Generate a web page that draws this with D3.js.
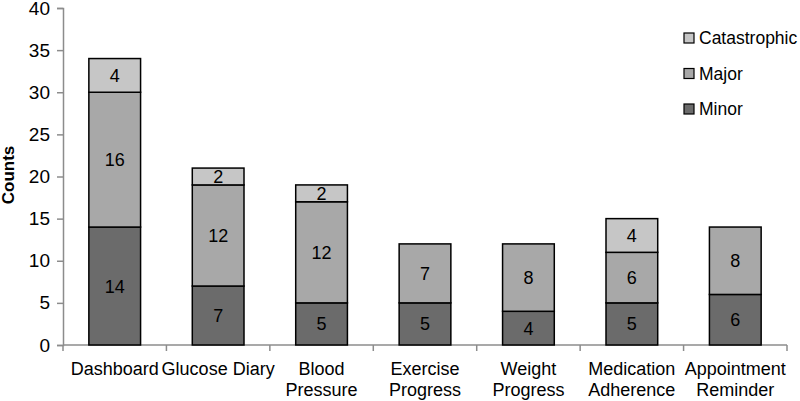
<!DOCTYPE html>
<html>
<head>
<meta charset="utf-8">
<script src="https://cdn.jsdelivr.net/npm/d3@7"></script>
<style>
  body { margin: 0; background: #fff; }
  svg text { font-family: "Liberation Sans", Arial, sans-serif; fill: #000; }
</style>
</head>
<body>
<svg id="chart" width="800" height="401"></svg>
<script>
// chart data
const categories = ['Dashboard', 'Glucose Diary', 'Blood Pressure', 'Exercise Progress',
                    'Weight Progress', 'Medication Adherence', 'Appointment Reminder'];
// label lines under each bar
const categoryLines = [['Dashboard'], ['Glucose Diary'], ['Blood', 'Pressure'], ['Exercise', 'Progress'],
                       ['Weight', 'Progress'], ['Medication', 'Adherence'], ['Appointment', 'Reminder']];
const seriesNames = ['Minor', 'Major', 'Catastrophic'];
const minor = [14, 7, 5, 5, 4, 5, 6];
const major = [16, 12, 12, 7, 8, 6, 8];
const catastrophic = [4, 2, 2, 0, 0, 4, 0];
const yTicks = [0, 5, 10, 15, 20, 25, 30, 35, 40];

const colors = { Minor: '#6b6b6b', Major: '#a8a8a8', Catastrophic: '#c6c6c6' };

const svg = d3.select('#chart');
const plotLeft = 63, plotRight = 787, plotTop = 8, plotBottom = 345;

const rows = categories.map((c, i) => ({ cat: c, Minor: minor[i], Major: major[i], Catastrophic: catastrophic[i] }));
const stacked = d3.stack().keys(seriesNames)(rows);

const x = d3.scaleBand().domain(categories).range([plotLeft, plotRight]).paddingInner(0.5).paddingOuter(0.25);
const y = d3.scaleLinear().domain([0, 40]).range([plotBottom, plotTop]);

// y axis
const yAxis = svg.append('g')
  .attr('transform', 'translate(' + plotLeft + ',0)')
  .call(d3.axisLeft(y).tickValues(yTicks).tickSize(6).tickPadding(7));
yAxis.select('.domain').attr('stroke', '#8c8c8c').attr('stroke-width', 1.5);
yAxis.selectAll('.tick line').attr('stroke', '#8c8c8c').attr('stroke-width', 1.5);
yAxis.selectAll('.tick text').style('font-size', '19px');

// x axis, ticks at category boundaries
const step = x.step();
const bounds = d3.range(categories.length + 1).map(i => plotLeft + i * step);
svg.append('line')
  .attr('x1', plotLeft).attr('x2', plotRight)
  .attr('y1', plotBottom).attr('y2', plotBottom)
  .attr('stroke', '#8c8c8c').attr('stroke-width', 1.5);
svg.selectAll('.xtick').data(bounds).enter().append('line')
  .attr('x1', d => d).attr('x2', d => d)
  .attr('y1', plotBottom).attr('y2', plotBottom + 6)
  .attr('stroke', '#8c8c8c').attr('stroke-width', 1.5);

// bars
const layers = svg.selectAll('.layer').data(stacked).enter().append('g')
  .attr('fill', d => colors[d.key]);
layers.selectAll('rect').data(d => d.filter(s => s[1] - s[0] > 0)).enter().append('rect')
  .attr('x', d => x(d.data.cat))
  .attr('width', x.bandwidth())
  .attr('y', d => y(d[1]))
  .attr('height', d => y(d[0]) - y(d[1]))
  .attr('stroke', '#000')
  .attr('stroke-width', 1.5);

// value labels
layers.selectAll('text').data(d => d.filter(s => s[1] - s[0] > 0)).enter().append('text')
  .attr('x', d => x(d.data.cat) + x.bandwidth() / 2)
  .attr('y', d => y((d[0] + d[1]) / 2))
  .attr('dy', '0.36em')
  .attr('text-anchor', 'middle')
  .style('font-size', '18px')
  .text(d => d[1] - d[0]);

// category labels
const lab = svg.selectAll('.catlab').data(categoryLines).enter().append('text')
  .attr('text-anchor', 'middle')
  .style('font-size', '18px');
lab.selectAll('tspan').data((d, i) => d.map(t => ({ t, i }))).enter().append('tspan')
  .attr('x', d => x(categories[d.i]) + x.bandwidth() / 2)
  .attr('y', (d, j) => 375 + j * 21)
  .text(d => d.t);

// y title
svg.append('text')
  .attr('transform', 'translate(14,175) rotate(-90)')
  .attr('text-anchor', 'middle')
  .style('font-size', '17px')
  .style('font-weight', 'bold')
  .text('Counts');

// legend
const legendItems = seriesNames.slice().reverse();
const lg = svg.selectAll('.lg').data(legendItems).enter().append('g')
  .attr('transform', (d, i) => 'translate(684,' + (33 + i * 35.5) + ')');
lg.append('rect')
  .attr('width', 10).attr('height', 10)
  .attr('fill', d => colors[d])
  .attr('stroke', '#000').attr('stroke-width', 1.2);
lg.append('text')
  .attr('x', 15).attr('y', 5).attr('dy', '0.36em')
  .style('font-size', '17.5px')
  .text(d => d);
</script>
</body>
</html>
